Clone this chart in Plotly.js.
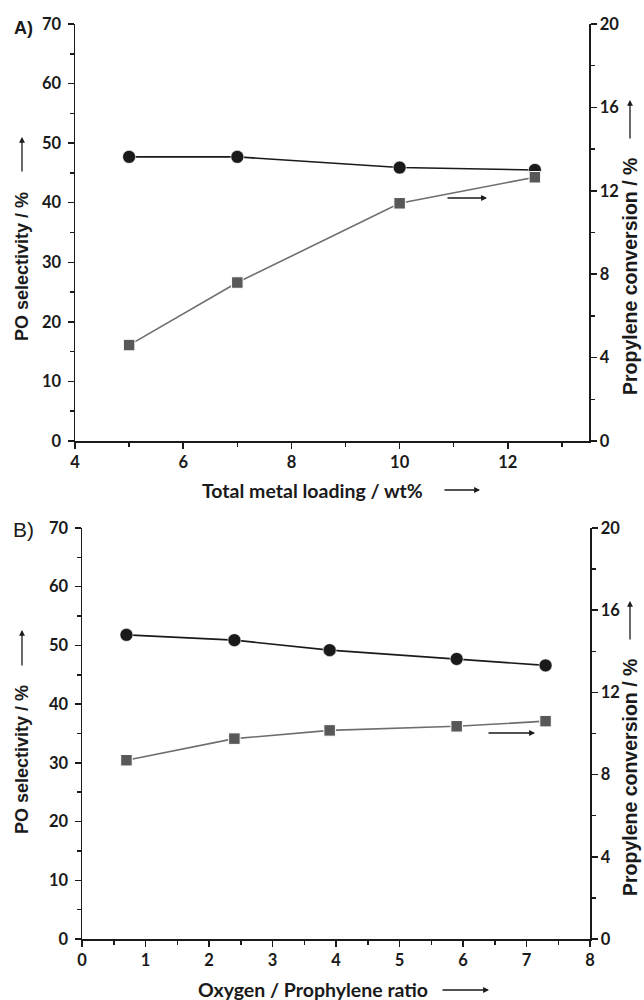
<!DOCTYPE html>
<html><head><meta charset="utf-8">
<script src="https://cdn.plot.ly/plotly-3.0.1.min.js"></script>
<style>html,body{margin:0;padding:0;background:#fff}#chart{width:644px;height:1000px}</style>
</head><body><div id="chart"></div>
<script>
// Panel A: total metal loading
const loadingX = [5, 7, 10, 12.5];
const loadingSelectivity = [47.7, 47.7, 45.9, 45.5];
const loadingConversion = [4.6, 7.6, 11.4, 12.65];
// Panel B: oxygen / propylene ratio
const ratioX = [0.7, 2.4, 3.9, 5.9, 7.3];
const ratioSelectivity = [51.8, 50.9, 49.2, 47.7, 46.6];
const ratioConversion = [8.7, 9.75, 10.15, 10.35, 10.6];

const titleA = "Total metal loading / wt%";
const titleB = "Oxygen / Prophylene ratio";
const leftTitle = "PO selectivity / %";
const rightTitle = "Propylene conversion / %";

const W = 644, H = 1000, ML = 75, MR = 54, MT = 24, MB = 61;
const PW = W - ML - MR, PH = H - MT - MB;
const px = x => (x - ML) / PW;
const py = y => (H - MB - y) / PH;

const ink = '#1a1a1a';
const tickFont = {family: 'Lato, "Liberation Sans Narrow", sans-serif', size: 16.5, weight: 700, color: ink};
const xTitleFont = {family: 'Lato, "Liberation Sans Narrow", sans-serif', size: 19.5, weight: 700, color: ink};
const yTitleFont = {family: '"Liberation Sans", Arial, sans-serif', size: 18, weight: 700, color: ink};
const rTitleFont = {family: '"Liberation Sans", Arial, sans-serif', size: 19.5, weight: 700, color: ink};

function axisBase(extra) {
  return Object.assign({
    showline: true, linecolor: ink, linewidth: 1.5, mirror: false,
    showgrid: false, zeroline: false, fixedrange: true,
    ticks: 'outside', ticklen: 6, tickwidth: 1.5, tickcolor: ink,
    tickfont: tickFont, tickmode: 'linear'
  }, extra);
}
function minor(dt, t0) {
  return {dtick: dt, tick0: t0, ticks: 'outside', ticklen: 4, tickwidth: 1.5, tickcolor: ink, showgrid: false};
}

const circleStyle = {
  mode: 'lines+markers',
  line: {color: ink, width: 1.6},
  marker: {symbol: 'circle', size: 13, color: ink, line: {color: '#ffffff', width: 0.6}}
};
const squareStyle = {
  mode: 'lines+markers',
  line: {color: '#6e6e6e', width: 1.6},
  marker: {symbol: 'square', size: 11.5, color: '#585858', line: {color: '#ffffff', width: 1}}
};

const data = [
  Object.assign({x: loadingX, y: loadingSelectivity, xaxis: 'x', yaxis: 'y', name: 'PO selectivity'}, circleStyle),
  Object.assign({x: loadingX, y: loadingConversion, xaxis: 'x', yaxis: 'y2', name: 'Propylene conversion'}, squareStyle),
  Object.assign({x: ratioX, y: ratioSelectivity, xaxis: 'x2', yaxis: 'y3', name: 'PO selectivity'}, circleStyle),
  Object.assign({x: ratioX, y: ratioConversion, xaxis: 'x2', yaxis: 'y4', name: 'Propylene conversion'}, squareStyle)
];

function arrow(tx, ty, hx, hy) {
  return {xref: 'paper', yref: 'paper', x: px(hx), y: py(hy), ax: tx - hx, ay: ty - hy,
    text: '', showarrow: true, arrowhead: 2, arrowsize: 0.9, arrowwidth: 1.3, arrowcolor: ink,
    standoff: 0, startstandoff: 0};
}
function label(text, x, y, font, angle) {
  return {xref: 'paper', yref: 'paper', x: px(x), y: py(y), text: text, showarrow: false,
    xanchor: 'center', yanchor: 'middle', textangle: angle || 0, font: font};
}

const layout = {
  width: W, height: H,
  margin: {l: ML, r: MR, t: MT, b: MB, pad: 0},
  paper_bgcolor: '#ffffff', plot_bgcolor: '#ffffff',
  showlegend: false,
  xaxis: axisBase({domain: [0, px(589)], anchor: 'y', range: [4, 13.5], tick0: 4, dtick: 2, minor: minor(1, 4)}),
  yaxis: axisBase({domain: [py(441), py(24)], anchor: 'x', range: [0, 70], tick0: 0, dtick: 10, minor: minor(5, 0), ticklabelstandoff: 3}),
  yaxis2: axisBase({overlaying: 'y', side: 'right', anchor: 'x', range: [0, 20], tick0: 0, dtick: 4, minor: minor(2, 0)}),
  xaxis2: axisBase({domain: [px(82), px(590)], anchor: 'y3', range: [0, 8], tick0: 0, dtick: 1, minor: minor(0.5, 0)}),
  yaxis3: axisBase({domain: [0, py(528)], anchor: 'x2', range: [0, 70], tick0: 0, dtick: 10, minor: minor(5, 0), ticklabelstandoff: 3}),
  yaxis4: axisBase({overlaying: 'y3', side: 'right', anchor: 'x2', range: [0, 20], tick0: 0, dtick: 4, minor: minor(2, 0)}),
  annotations: [
    label('A)', 23, 28, {family: '"Liberation Sans", Arial, sans-serif', size: 18, weight: 700, color: ink}),
    label('B)', 23, 529, {family: '"Liberation Sans", Arial, sans-serif', size: 21, weight: 400, color: ink}),
    // axis titles
    label(titleA, 312, 490, xTitleFont),
    label(titleB, 313, 989, xTitleFont),
    label(leftTitle, 22, 267, yTitleFont, -90),
    label(leftTitle, 22, 760, yTitleFont, -90),
    label(rightTitle, 630, 277, rTitleFont, -90),
    label(rightTitle, 630, 778, rTitleFont, -90),
    // arrows
    arrow(446, 198, 487, 198),
    arrow(487, 733, 535, 733),
    arrow(443, 490, 480, 490),
    arrow(441, 990, 489, 990),
    arrow(22, 173, 22, 137),
    arrow(630, 140, 630, 100),
    arrow(22, 667, 22, 630),
    arrow(630, 641, 630, 601)
  ]
};

Plotly.newPlot('chart', data, layout, {displayModeBar: false, staticPlot: true});
</script>
</body></html>
